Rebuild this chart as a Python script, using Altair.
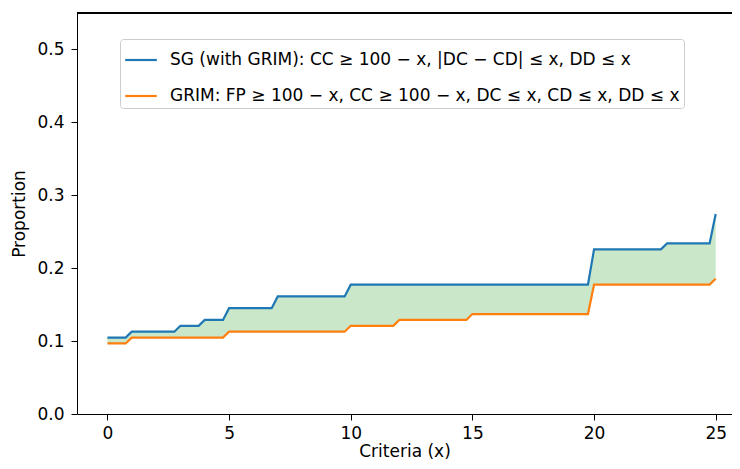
import altair as alt
import pandas as pd

# x positions of the step breakpoints (Criteria x)
x_vals = [0, 0.75, 1, 2.75, 3, 3.75, 4, 4.75, 5, 6.75, 7, 9.75, 10,
          11.75, 12, 14.75, 15, 19.75, 20, 22.75, 23, 24.75, 25]
# SG (with GRIM)
sg_vals = [0.1048, 0.1048, 0.1129, 0.1129, 0.1210, 0.1210, 0.1290, 0.1290,
           0.1452, 0.1452, 0.1613, 0.1613, 0.1774, 0.1774, 0.1774, 0.1774,
           0.1774, 0.1774, 0.2258, 0.2258, 0.2339, 0.2339, 0.2742]
# GRIM
grim_vals = [0.0968, 0.0968, 0.1048, 0.1048, 0.1048, 0.1048, 0.1048, 0.1048,
             0.1129, 0.1129, 0.1129, 0.1129, 0.1210, 0.1210, 0.1290, 0.1290,
             0.1371, 0.1371, 0.1774, 0.1774, 0.1774, 0.1774, 0.1855]

series_names = ["SG (with GRIM): CC \u2265 100 \u2212 x, |DC \u2212 CD| \u2264 x, DD \u2264 x",
                "GRIM: FP \u2265 100 \u2212 x, CC \u2265 100 \u2212 x, DC \u2264 x, CD \u2264 x, DD \u2264 x"]
colors = ["#1f77b4", "#ff7f0e"]
y_ticks = [0.0, 0.1, 0.2, 0.3, 0.4, 0.5]
x_ticks = [0, 5, 10, 15, 20, 25]

wide = pd.DataFrame({"x": x_vals, "sg": sg_vals, "grim": grim_vals})
long = pd.concat([
    pd.DataFrame({"x": x_vals, "y": sg_vals, "series": series_names[0], "o": 0}),
    pd.DataFrame({"x": x_vals, "y": grim_vals, "series": series_names[1], "o": 1}),
])

FONT = "DejaVu Sans"
FS = 17
W, H = 655, 401
xscale = alt.Scale(domain=[-1.25, 25.67], nice=False, zero=False)
yscale = alt.Scale(domain=[0, 0.55], nice=False)

xaxis = alt.Axis(values=x_ticks, format="d", title="Criteria (x)", grid=False,
                 tickSize=6, labelPadding=5, titlePadding=2)
yaxis = alt.Axis(values=y_ticks, format=".1f", title="Proportion", grid=False,
                 tickSize=6, labelPadding=7, titlePadding=8)

area = alt.Chart(wide).mark_area(color="#2ca02c", opacity=0.25).encode(
    x=alt.X("x:Q", scale=xscale, axis=xaxis),
    y=alt.Y("sg:Q", scale=yscale, axis=yaxis),
    y2="grim:Q",
)

lines = alt.Chart(long).mark_line(strokeWidth=2.2).encode(
    x=alt.X("x:Q", scale=xscale),
    y=alt.Y("y:Q", scale=yscale),
    color=alt.Color("series:N",
                    scale=alt.Scale(domain=series_names, range=colors),
                    legend=alt.Legend(title=None, orient="none", legendX=43, legendY=26,
                                      symbolType="stroke", symbolSize=1000,
                                      symbolStrokeWidth=2.2, labelFontSize=FS,
                                      labelFont=FONT, labelColor="black",
                                      strokeColor="#cccccc", fillColor="white",
                                      cornerRadius=3, padding=4, rowPadding=11,
                                      labelOffset=12, labelLimit=700)),
    order="o:Q",
    detail="series:N",
)

top_spine = alt.Chart(wide).mark_rule(color="black", strokeWidth=1).encode(
    x=alt.value(0), x2=alt.value(W), y=alt.value(0)
)

chart = alt.layer(area, lines, top_spine).properties(
    width=W, height=H,
    autosize=alt.AutoSizeParams(type="none"),
    padding={"left": 69, "top": 5, "right": 0, "bottom": 47},
).configure_view(stroke=None).configure_axis(
    domainColor="black", tickColor="black", labelColor="black", titleColor="black",
    labelFont=FONT, titleFont=FONT, labelFontSize=FS, titleFontSize=FS,
    titleFontWeight="normal", domainWidth=1, tickWidth=1,
)

chart.save("out.html", embed_options={"renderer": "svg", "actions": False})
